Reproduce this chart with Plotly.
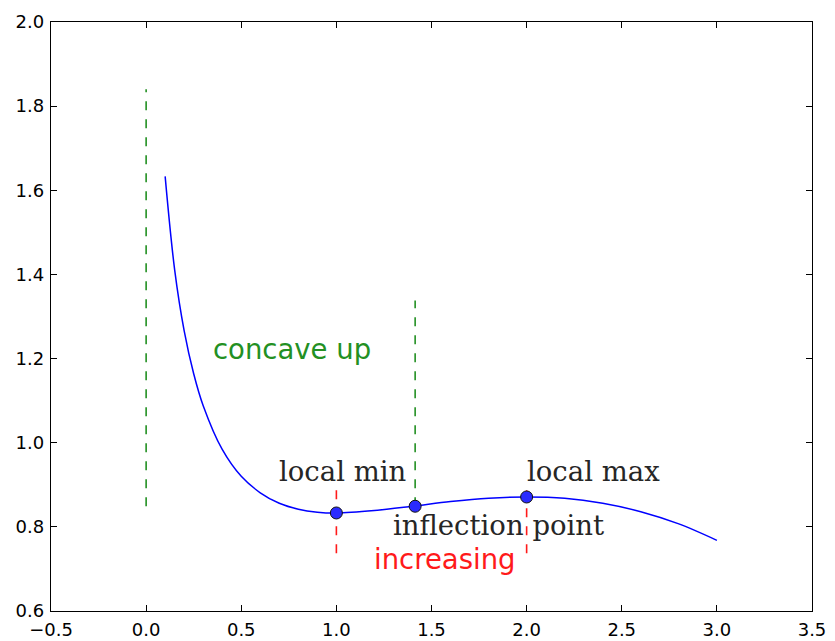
import plotly.graph_objects as go

# Curve values
curve_x = [0.1, 0.15, 0.2, 0.25, 0.3, 0.4, 0.5, 0.6, 0.7, 0.8, 0.9, 1.0,
           1.2, 1.4, 1.6, 1.8, 2.0, 2.2, 2.4, 2.6, 2.8, 3.0]
curve_y = [1.633, 1.411, 1.266, 1.164, 1.088, 0.984, 0.920, 0.881, 0.856, 0.842,
           0.835, 0.833, 0.839, 0.849, 0.860, 0.868, 0.871, 0.868, 0.856, 0.836,
           0.807, 0.768]

# Special points: local min, inflection point, local max
point_x = [1.0, 1.414, 2.0]
point_y = [0.833, 0.849, 0.871]

# Green dashed verticals (concavity boundaries)
green_x = [0.0, 1.414]
green_y0 = [0.849, 0.849]
green_y1 = [1.84, 1.338]

# Red dashed verticals (monotonicity boundaries)
red_x = [1.0, 2.0]
red_y0 = [0.737, 0.737]
red_y1 = [0.888, 0.888]

# Text labels
serif_labels = ["local min", "local max", "inflection point"]
serif_x = [0.70, 2.0, 1.30]
serif_y = [0.91, 0.91, 0.78]

sans_labels = ["concave up", "increasing"]
sans_x = [0.35, 1.2]
sans_y = [1.2, 0.7]
sans_colors = ["#239023", "#ff1a1a"]

x_ticks = [-0.5, 0.0, 0.5, 1.0, 1.5, 2.0, 2.5, 3.0, 3.5]
x_ticktext = ["\u22120.5", "0.0", "0.5", "1.0", "1.5", "2.0", "2.5", "3.0", "3.5"]
y_ticks = [0.6, 0.8, 1.0, 1.2, 1.4, 1.6, 1.8, 2.0]
y_ticktext = ["0.6", "0.8", "1.0", "1.2", "1.4", "1.6", "1.8", "2.0"]

fig = go.Figure()

for gx, a, b in zip(green_x, green_y0, green_y1):
    fig.add_trace(go.Scatter(x=[gx, gx], y=[a, b], mode="lines",
                             line=dict(color="#239023", width=1.6, dash="9px,9px"),
                             showlegend=False, hoverinfo="skip"))
for rx, a, b in zip(red_x, red_y0, red_y1):
    fig.add_trace(go.Scatter(x=[rx, rx], y=[a, b], mode="lines",
                             line=dict(color="#ff1a1a", width=1.6, dash="9px,9px"),
                             showlegend=False, hoverinfo="skip"))

fig.add_trace(go.Scatter(x=curve_x, y=curve_y, mode="lines",
                         line=dict(color="#0000ff", width=1.5, shape="spline", smoothing=1.0),
                         showlegend=False))
fig.add_trace(go.Scatter(x=point_x, y=point_y, mode="markers",
                         marker=dict(color="#2b2bff", size=12, line=dict(color="#111111", width=1)),
                         showlegend=False))

for t, x, y in zip(serif_labels, serif_x, serif_y):
    fig.add_annotation(x=x, y=y, text=t, showarrow=False, xanchor="left", yanchor="bottom",
                       yshift=-8, xshift=-2,
                       font=dict(family="DejaVu Serif", size=27.5, color="#262626"))
for t, x, y, c in zip(sans_labels, sans_x, sans_y, sans_colors):
    fig.add_annotation(x=x, y=y, text=t, showarrow=False, xanchor="left", yanchor="bottom",
                       yshift=-8, xshift=-2,
                       font=dict(family="DejaVu Sans", size=27.5, color=c))

axis_common = dict(showline=True, linecolor="black", linewidth=1.4, mirror="ticks",
                   ticks="inside", ticklen=6, tickwidth=1, tickcolor="black",
                   showgrid=False, zeroline=False, automargin=False,
                   tickfont=dict(family="DejaVu Sans", size=18, color="black"))

fig.update_xaxes(range=[-0.5, 3.5], tickvals=x_ticks, ticktext=x_ticktext,
                 ticklabelstandoff=2, **axis_common)
fig.update_yaxes(range=[0.6, 2.0], tickvals=y_ticks, ticktext=y_ticktext,
                 ticklabelstandoff=2, **axis_common)

fig.update_layout(width=835, height=641,
                  margin=dict(l=51, r=23, t=22, b=30),
                  plot_bgcolor="white", paper_bgcolor="white")

fig.write_html("out.html", config={"displayModeBar": False},
               post_script="document.body.style.margin='0';document.body.style.overflow='hidden';")
